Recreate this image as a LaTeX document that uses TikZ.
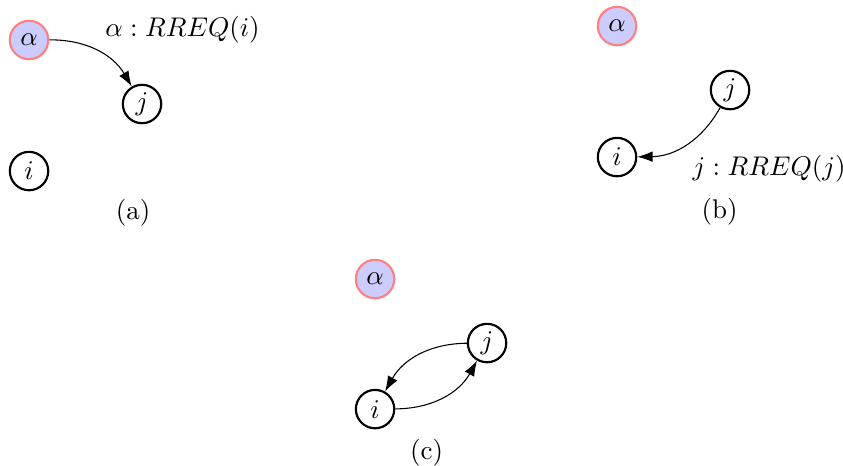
\documentclass[tikz,border=0pt]{standalone}
\usepackage{tikz}
\usetikzlibrary{arrows.meta,positioning,calc}
\tikzset{
  peer/.style={circle, draw=black, thick, inner sep=0pt, minimum size=5mm},
  source/.style={peer, draw=red!50, fill=blue!20},
  msg/.style={-{Latex[length=2mm, width=1.4mm]}}
}

\begin{document}
\begin{tikzpicture}
    \useasboundingbox (0,0) rectangle (10.975,-6.054);

    % (a) alpha sends its request to j
    \begin{scope}[shift={(0.378,-0.521)}]
      \node[source] (alphaA) at (0,0) {$\alpha$};
      \node[peer] (jA) at (1.471,-0.833) {$j$};
      \node[peer] (iA) at (0,-1.706) {$i$};
    \end{scope}
    \node (reqA) at (2.376,-0.391) {$\alpha: RREQ(i)$};
    \node (capA) at (1.732,-2.773) {(a)};
    \draw[msg] (alphaA) to[bend left=30] (jA);

    % (b) j forwards to i
    \begin{scope}[shift={(8.033,-0.339)}]
      \node[source] (alphaB) at (0,0) {$\alpha$};
      \node[peer] (jB) at (1.471,-0.833) {$j$};
      \node[peer] (iB) at (0,-1.706) {$i$};
    \end{scope}
    \node (reqB) at (10.012,-2.200) {$j: RREQ(j)$};
    \node (capB) at (9.368,-2.760) {(b)};
    \draw[msg] (jB) to[bend left=30] (iB);

    % (c) both directions
    \begin{scope}[shift={(4.883,-3.633)}]
      \node[source] (alphaC) at (0,0) {$\alpha$};
      \node[peer] (jC) at (1.458,-0.833) {$j$};
      \node[peer] (iC) at (0,-1.693) {$i$};
    \end{scope}
    \node (capC) at (5.553,-5.898) {(c)};
    \draw[msg] (jC) to[bend right=30] (iC);
    \draw[msg] (iC) to[bend right=30] (jC);
\end{tikzpicture}
\end{document}
